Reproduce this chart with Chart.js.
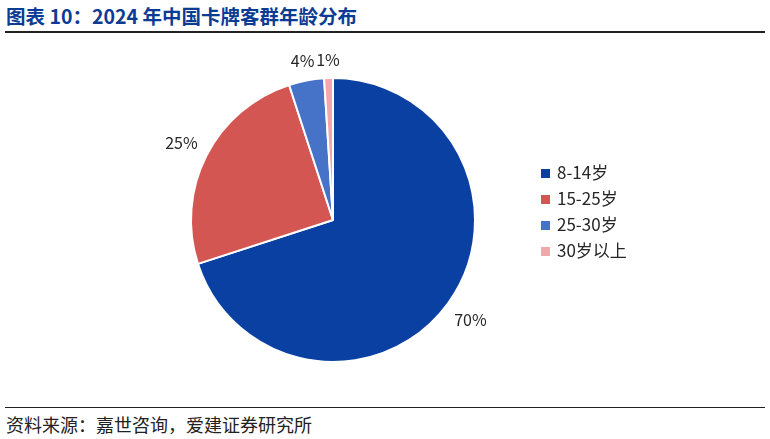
<!DOCTYPE html>
<html>
<head>
<meta charset="utf-8">
<script src="https://cdn.jsdelivr.net/npm/chart.js@4"></script>
<style>
  body { margin: 0; width: 770px; height: 439px; background: #fff; font-family: "Noto Sans CJK SC", "Noto Sans", sans-serif; position: relative; overflow: hidden; }
  #title { position: absolute; left: 6px; top: 1px; font-size: 19.5px; font-weight: bold; color: #0b3c94; }
  #topline { position: absolute; left: 5px; top: 31px; width: 760px; height: 2px; background: #222; }
  #wrap { position: absolute; left: 0; top: 37px; width: 770px; height: 365px; }
  #legend { position: absolute; left: 541px; top: 159px; font-size: 17px; color: #262626; }
  #legend div { height: 26px; line-height: 26px; }
  #legend span { display: inline-block; width: 9px; height: 9px; margin-right: 7px; vertical-align: 1px; }
  #botline { position: absolute; left: 5px; top: 407px; width: 760px; height: 1px; background: #222; }
  #source { position: absolute; left: 6px; top: 411px; font-size: 18px; color: #222; line-height: 26px; }
</style>
</head>
<body>
<div id="title">图表 10：2024 年中国卡牌客群年龄分布</div>
<div id="topline"></div>
<div id="wrap"><canvas id="chart"></canvas></div>
<div id="legend"></div>
<div id="botline"></div>
<div id="source">资料来源：嘉世咨询，爱建证券研究所</div>
<script>
const categories = ["8-14岁", "15-25岁", "25-30岁", "30岁以上"];
const shares = [70, 25, 4, 1];
const colors = ["#0a40a2", "#d45653", "#4672c8", "#f3a7aa"];

const legend = document.getElementById("legend");
categories.forEach((c, i) => {
    const row = document.createElement("div");
    row.innerHTML = `<span style="background:${colors[i]}"></span>${c}`;
    legend.appendChild(row);
});

const outsideLabels = {
    id: "outsideLabels",
    afterDatasetsDraw(chart) {
        const ctx = chart.ctx;
        const meta = chart.getDatasetMeta(0);
        ctx.save();
        ctx.font = '16px "Noto Sans CJK SC", sans-serif';
        ctx.fillStyle = "#262626";
        ctx.textAlign = "center";
        ctx.textBaseline = "middle";
        meta.data.forEach((arc, i) => {
            const mid = (arc.startAngle + arc.endAngle) / 2;
            const text = shares[i] + "%";
            const hw = ctx.measureText(text).width / 2;
            const hh = 8;
            const r = arc.outerRadius + 10 + hw * Math.abs(Math.cos(mid)) + hh * Math.abs(Math.sin(mid));
            ctx.fillText(text, arc.x + Math.cos(mid) * r, arc.y + Math.sin(mid) * r);
        });
        ctx.restore();
    }
};

const ctx = document.getElementById("chart").getContext("2d");
new Chart(ctx, {
    type: "pie",
    data: {
        labels: categories,
        datasets: [{
            data: shares,
            backgroundColor: colors,
            borderColor: "#fff",
            borderWidth: 2
        }]
    },
    options: {
        responsive: true,
        maintainAspectRatio: false,
        animation: false,
        layout: { padding: { top: 40, bottom: 39, left: 190, right: 294 } },
        plugins: {
            legend: { display: false },
            tooltip: { enabled: false }
        }
    },
    plugins: [outsideLabels]
});
</script>
</body>
</html>
